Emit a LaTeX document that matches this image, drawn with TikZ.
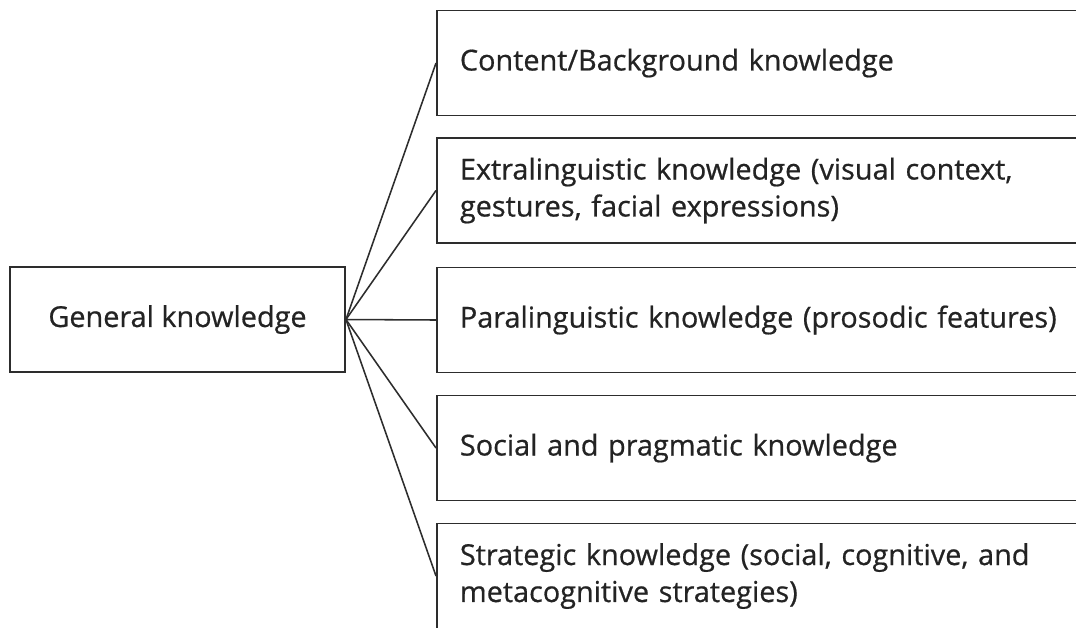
\documentclass[tikz,border=0pt]{standalone}
\usepackage{fontspec}
\newfontfamily\labelfont{Open Sans}[FakeBold=0.6]
\usepackage{tikz}
\definecolor{boxline}{RGB}{45,45,45}
\definecolor{boxtext}{RGB}{35,35,35}

\begin{document}
\begin{tikzpicture}[x=0.025cm, y=-0.025cm,
  font=\labelfont\fontsize{20.5}{26.3}\selectfont, text=boxtext,
  general/.style={rectangle, draw=boxline, line width=1.3pt, align=center,
                  minimum width=8.375cm, minimum height=2.625cm},
  kind/.style={rectangle, draw=boxline, line width=1.3pt, align=left,
               text width=15.425cm, inner xsep=0.575cm, minimum height=2.625cm},
  link/.style={draw=boxline, line width=1.1pt}]
  \useasboundingbox (0,0) rectangle (1076,627);
  \clip (0,0) rectangle (1076,627);
  \fill[white] (0,0) rectangle (1076,627);
  \node[general] (gen) at (177.5,319.5) {General knowledge};
  \node[kind] (k1) at (768.5,63) {Content/Background knowledge};
  \node[kind] (k2) at (768.5,190.5)
    {Extralinguistic knowledge (visual context,\\ gestures, facial expressions)};
  \node[kind] (k3) at (768.5,320) {Paralinguistic knowledge (prosodic features)};
  \node[kind] (k4) at (768.5,448) {Social and pragmatic knowledge};
  \node[kind] (k5) at (768.5,576)
    {Strategic knowledge (social, cognitive, and\\ metacognitive strategies)};
  \foreach \k in {k1,k2,k3,k4,k5}
    \draw[link] (gen.east) -- (\k.west);
\end{tikzpicture}
\end{document}
